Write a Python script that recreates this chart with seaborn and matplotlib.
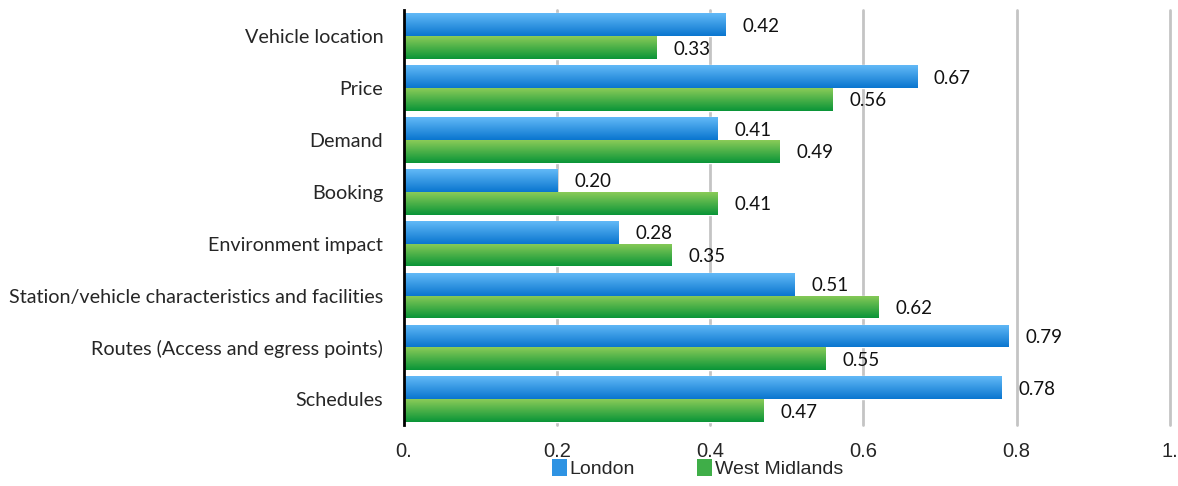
import numpy as np
import pandas as pd
import seaborn as sns
import matplotlib.pyplot as plt
from matplotlib.colors import LinearSegmentedColormap
from matplotlib.patches import Patch

# data
categories = ["Vehicle location", "Price", "Demand", "Booking", "Environment impact",
              "Station/vehicle characteristics and facilities",
              "Routes (Access and egress points)", "Schedules"]
london = [0.42, 0.67, 0.41, 0.20, 0.28, 0.51, 0.79, 0.78]
west_midlands = [0.33, 0.56, 0.49, 0.41, 0.35, 0.62, 0.55, 0.47]
series = ["London", "West Midlands"]
x_ticks = [0.0, 0.2, 0.4, 0.6, 0.8, 1.0]
x_tick_labels = ["0.", "0.2", "0.4", "0.6", "0.8", "1."]

df = pd.DataFrame({
    "category": categories * 2,
    "value": london + west_midlands,
    "series": [series[0]] * len(categories) + [series[1]] * len(categories),
})

mid_colors = {"London": "#2e93e3", "West Midlands": "#3fae48"}
grads = {
    "London": LinearSegmentedColormap.from_list("lon", ["#62b9f7", "#0a76cf"]),
    "West Midlands": LinearSegmentedColormap.from_list("wm", ["#8acb58", "#0a9538"]),
}

sns.set_style("white")
plt.rcParams["font.family"] = ["Liberation Sans", "DejaVu Sans"]

fig, ax = plt.subplots(figsize=(11.78, 4.86), dpi=100)
fig.subplots_adjust(left=0.343, right=0.993, top=0.979, bottom=0.125)

sns.barplot(data=df, x="value", y="category", hue="series", orient="h",
            palette=mid_colors, width=0.88, edgecolor="white", linewidth=1,
            legend=False, ax=ax, zorder=3)

ax.set_xlim(0, 1.0)
ylim = ax.get_ylim()

# gradient fill + value labels (seaborn adds London bars first, then West Midlands)
bars = [p for p in ax.patches if p.get_width() > 0]
grad = np.linspace(0, 1, 64).reshape(-1, 1)
for i, bar in enumerate(bars):
    name = series[0] if i < len(categories) else series[1]
    x0, y0 = bar.get_x(), bar.get_y()
    w, h = bar.get_width(), bar.get_height()
    im = ax.imshow(grad, cmap=grads[name], extent=(x0, x0 + w, y0 + h, y0),
                   origin="upper", aspect="auto", zorder=4)
    im.set_clip_path(bar)
    ax.text(x0 + w + 0.022, y0 + h / 2 + 0.03, f"{w:.2f}", va="center", ha="left",
            fontsize=13.5, family=["Lato", "DejaVu Sans"], color="#111111", zorder=5)

ax.set_ylim(ylim)

ax.set_xticks(x_ticks)
ax.set_xticklabels(x_tick_labels, fontsize=14.5)
ax.tick_params(axis="x", length=0, pad=12)
ax.tick_params(axis="y", length=0, pad=15)
for lab in ax.get_yticklabels():
    lab.set_fontfamily(["Lato", "DejaVu Sans"])
    lab.set_fontsize(14.2)
ax.set_xlabel("")
ax.set_ylabel("")

ax.grid(False)
for x in x_ticks[1:]:
    ax.axvline(x, color="#c4c4c4", linewidth=2, zorder=0, clip_on=False)
for side in ["top", "right", "bottom"]:
    ax.spines[side].set_visible(False)
ax.spines["left"].set_color("black")
ax.spines["left"].set_linewidth(2)
ax.spines["left"].set_zorder(6)

handles = [Patch(facecolor=mid_colors[s], edgecolor="none") for s in series]
fig.legend(handles, series, loc="lower center", ncol=2, frameon=False,
           bbox_to_anchor=(0.592, -0.02), fontsize=14, handlelength=0.75,
           handleheight=1.0, handletextpad=0.15, columnspacing=3.2)

fig.savefig("out.png", dpi=100)
